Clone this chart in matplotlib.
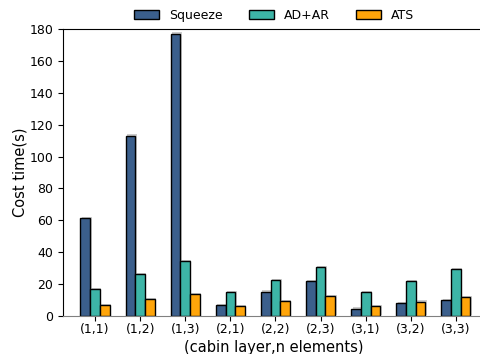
import matplotlib
matplotlib.use("Agg")
import matplotlib.pyplot as plt
import matplotlib.patheffects as pe
from matplotlib.patches import Patch
import numpy as np

categories = ["(1,1)", "(1,2)", "(1,3)", "(2,1)", "(2,2)", "(2,3)", "(3,1)", "(3,2)", "(3,3)"]
squeeze = [61.5, 113, 177, 6.9, 15.2, 22, 4.6, 8, 10]
adar = [16.7, 26.1, 34.3, 14.9, 22.4, 30.7, 14.9, 21.8, 29.5]
ats = [6.9, 10.5, 13.8, 6.1, 9.2, 12.5, 6.1, 9.0, 11.9]

series = [("Squeeze", squeeze, "#3b5f8c"),
          ("AD+AR", adar, "#3db5a7"),
          ("ATS", ats, "#ffa50a")]

fig = plt.figure(figsize=(4.8, 3.54), dpi=100)
ax = fig.add_axes([63 / 480, 1 - 316 / 354, 1 - 63 / 480 + 0.01, (316 - 29) / 354])

x = np.arange(len(categories))
w = 0.215
shadow = [pe.SimplePatchShadow(offset=(1, 1), shadow_rgbFace="gray", alpha=0.4), pe.Normal()]
handles = []
for i, (name, vals, col) in enumerate(series):
    bars = ax.bar(x + (i - 1) * w, vals, w, color=col, edgecolor="black", linewidth=1.0)
    for b in bars:
        b.set_path_effects(shadow)
    handles.append(Patch(facecolor=col, edgecolor="black", linewidth=1.0, label=name))

ax.set_xticks(x)
ax.set_xticklabels(categories, fontsize=9)
ax.set_xlim(-0.71, 8.64)
ax.set_ylim(0, 180)
ax.set_yticks(range(0, 181, 20))
ax.tick_params(axis="y", labelsize=9)
ax.tick_params(axis="x", pad=1.5)
ax.set_ylabel("Cost time(s)", fontsize=10.5)
ax.set_xlabel("(cabin layer,n elements)", fontsize=10.5)
ax.yaxis.set_label_coords(-0.083, 0.5)
ax.xaxis.set_label_coords(0.5, -0.085)
ax.spines["right"].set_visible(False)
ax.spines["bottom"].set_color("gray")

ax.legend(handles=handles, loc="lower center", bbox_to_anchor=(0.5, 1.0), ncol=3, frameon=False,
          fontsize=9, handlelength=2.0, columnspacing=2.1, borderaxespad=0.15)

fig.savefig("out.png", dpi=100)
